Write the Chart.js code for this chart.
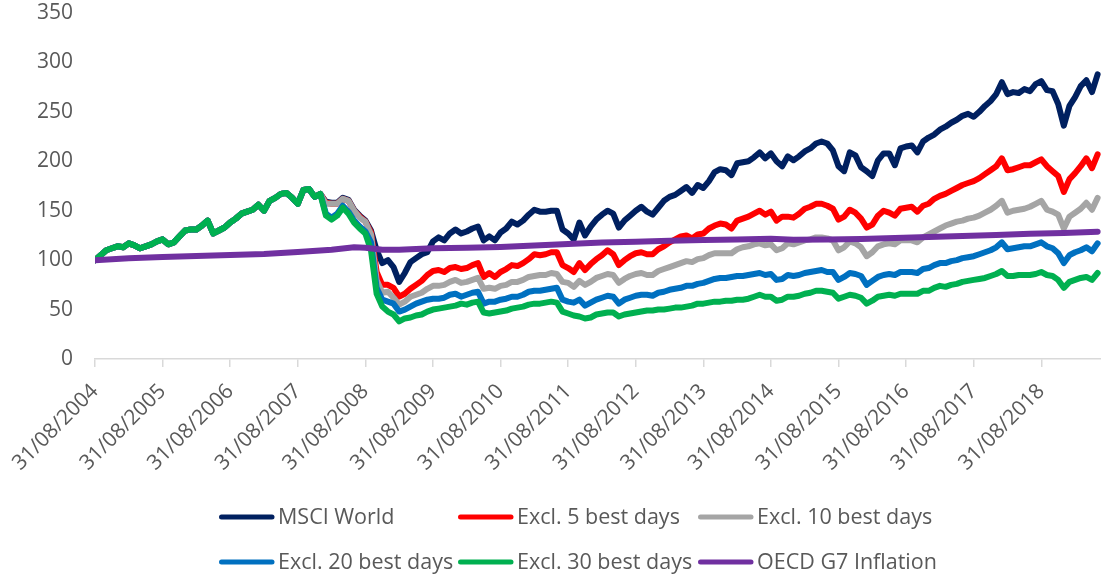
<!DOCTYPE html>
<html>
<head>
<meta charset="utf-8">
<title>MSCI World – missing the best days</title>
<script src="https://cdn.jsdelivr.net/npm/chart.js@4.4.1/dist/chart.umd.min.js"></script>
<style>
  html, body { margin: 0; padding: 0; background: #ffffff; }
  #wrap { width: 1101px; height: 576px; position: relative; }
</style>
</head>
<body>
<div id="wrap"><canvas id="chart"></canvas></div>
<script>
// x values are month-end offsets counted from 31/08/2004 (0 = Aug 2004, 178 = Jun 2019)
const tickLabels = [
  '31/08/2004', '31/08/2005', '31/08/2006', '31/08/2007', '31/08/2008',
  '31/08/2009', '31/08/2010', '31/08/2011', '31/08/2012', '31/08/2013',
  '31/08/2014', '31/08/2015', '31/08/2016', '31/08/2017', '31/08/2018'
];

// Index levels, base 100 (one value per month end)
const msciWorld = [
  100,105,110,112,114,113,117,115,112,114,116,119,
  121,116,118,124,130,131,131,135,140,127,130,133,
  138,142,147,149,151,156,150,160,163,167,168,163,
  157,171,172,164,167,159,158,158,163,161,151,145,
  140,130,110,97,100,93,78,87,98,102,106,108,
  119,123,120,127,131,127,129,132,134,120,124,120,
  128,132,139,136,140,146,151,149,149,150,150,131,
  127,121,138,125,134,141,146,150,147,133,140,145,
  150,154,149,146,153,160,164,166,170,174,168,176,
  173,180,189,192,191,186,198,199,200,204,209,203,
  208,200,195,205,201,205,210,213,218,220,218,211,
  195,190,209,206,194,190,185,201,208,208,196,213,
  215,216,209,220,224,227,232,235,239,242,246,248,
  245,250,256,261,268,280,268,270,269,273,271,278,
  281,272,271,258,236,256,265,276,282,270,288
];

const excl5Best = [
  100,105,110,112,114,113,117,115,112,114,116,119,
  121,116,118,124,130,131,131,135,140,127,130,133,
  138,142,147,149,151,156,150,160,163,167,168,163,
  157,171,172,164,167,158,157,157,162,160,150,144,
  139,128,88,75,75,72,63,66,71,75,79,85,
  89,90,88,92,93,91,92,95,97,83,87,83,
  88,91,95,94,97,101,106,105,106,108,108,95,
  92,88,97,90,96,101,105,110,106,95,100,104,
  107,108,106,106,111,114,118,121,124,125,122,126,
  127,132,135,137,136,132,140,142,144,147,150,146,
  149,140,144,144,143,147,152,154,157,157,155,152,
  141,144,151,148,142,133,136,145,150,148,145,152,
  153,154,149,155,157,162,165,167,170,173,176,178,
  180,183,187,191,195,203,191,192,194,196,196,199,
  202,195,190,185,169,182,188,195,203,193,207
];

const excl10Best = [
  100,105,110,112,114,113,117,115,112,114,116,119,
  121,116,118,124,130,131,131,135,140,127,130,133,
  138,142,147,149,151,156,150,160,163,167,168,163,
  157,171,172,164,167,157,157,157,162,160,150,143,
  139,126,80,67,68,62,55,58,63,65,67,71,
  74,74,75,78,80,77,78,80,82,71,72,71,
  74,75,78,78,80,83,84,85,85,87,86,78,
  77,73,79,75,78,82,84,86,85,77,81,84,
  86,87,85,85,89,91,93,95,97,99,98,101,
  102,105,107,107,107,107,111,113,114,116,117,115,
  116,110,112,117,116,118,120,121,123,123,122,120,
  110,113,119,117,113,104,108,114,116,117,116,120,
  120,120,118,123,126,129,132,135,137,139,140,142,
  143,145,148,151,155,160,148,150,151,152,154,157,
  160,151,149,146,132,144,148,152,158,151,163
];

const excl20Best = [
  100,105,110,112,114,113,117,115,112,114,116,119,
  121,116,118,124,130,131,131,135,140,127,130,133,
  138,142,147,149,151,156,150,160,163,167,168,163,
  157,171,172,164,167,147,143,147,155,149,140,134,
  129,118,72,60,58,56,48,50,53,56,58,60,
  61,61,62,65,66,63,65,67,68,56,58,58,
  60,61,63,63,65,68,69,69,70,71,72,60,
  58,57,60,54,57,60,62,64,63,56,60,62,
  64,65,65,64,67,68,70,71,72,74,74,76,
  77,79,81,82,82,83,84,84,85,86,87,85,
  86,80,81,85,84,85,87,88,89,90,88,88,
  80,83,87,86,84,75,79,83,85,86,85,88,
  88,88,87,91,92,95,97,97,99,100,102,103,
  104,106,108,110,113,118,111,112,113,114,114,116,
  118,114,112,107,97,105,108,110,113,109,117
];

const excl30Best = [
  100,105,110,112,114,113,117,115,112,114,116,119,
  121,116,118,124,130,131,131,135,140,127,130,133,
  138,142,147,149,151,156,150,160,163,167,168,163,
  157,171,172,164,167,145,141,145,153,147,138,132,
  127,110,66,53,48,45,38,41,42,44,45,48,
  50,51,52,53,54,56,55,57,58,47,46,47,
  48,49,51,52,53,55,56,56,57,58,57,48,
  46,44,43,41,42,45,46,47,47,43,45,46,
  47,48,49,49,50,50,51,52,52,53,54,56,
  56,57,58,58,59,59,60,60,61,63,65,63,
  63,59,60,63,63,64,66,67,69,69,68,67,
  61,63,65,64,62,56,59,63,64,65,64,66,
  66,66,66,69,69,72,74,73,75,76,78,79,
  80,81,82,84,86,89,84,84,85,85,85,86,
  88,85,84,80,72,78,80,82,83,80,87
];

// Inflation index, read at fewer dates (month offsets as above)
const inflationMonths = [0, 6, 12, 18, 24, 30, 36, 42, 46, 48, 51, 54, 60, 66, 72, 78, 84,
  90, 96, 102, 108, 114, 120, 124, 130, 136, 142, 148, 154, 160, 166, 172, 178];
const inflation = [100, 101.8, 103.3, 104.2, 105.1, 106.2, 108.3, 110.6, 113, 112.6, 110.5,
  110.6, 112, 112.6, 113.4, 114.8, 116.3, 117.8, 118.6, 119.7, 120.4, 121, 121.6, 120.6,
  121, 121.5, 122.4, 123.4, 124.3, 125.4, 126.7, 127.5, 128.8];

const seriesNames = ['MSCI World', 'Excl. 5 best days', 'Excl. 10 best days',
  'Excl. 20 best days', 'Excl. 30 best days', 'OECD G7 Inflation'];
const seriesColors = ['#002060', '#FF0000', '#A5A5A5', '#0070C0', '#00B050', '#7030A0'];

const monthly = (values) => values.map((v, i) => ({ x: i, y: v }));
const seriesData = [
  monthly(msciWorld),
  monthly(excl5Best),
  monthly(excl10Best),
  monthly(excl20Best),
  monthly(excl30Best),
  inflationMonths.map((m, i) => ({ x: m, y: inflation[i] }))
];

const TEXT = '#595959';
const FONT = "'Open Sans', 'Liberation Sans', sans-serif";

// Legend laid out as a fixed 3-column grid under the axis
const gridLegend = {
  id: 'gridLegend',
  afterDraw(chart, args, opts) {
    const ctx = chart.ctx;
    ctx.save();
    ctx.font = `${opts.size}px ${FONT}`;
    ctx.textBaseline = 'middle';
    ctx.textAlign = 'left';
    chart.data.datasets.forEach((ds, i) => {
      const x = opts.columns[i % 3];
      const y = opts.rows[Math.floor(i / 3)];
      ctx.strokeStyle = ds.borderColor;
      ctx.lineWidth = 5;
      ctx.lineCap = 'round';
      ctx.beginPath();
      ctx.moveTo(x + 2.5, y);
      ctx.lineTo(x + 53, y);
      ctx.stroke();
      ctx.fillStyle = TEXT;
      ctx.fillText(ds.label, x + 59, y + 1);
    });
    ctx.restore();
  }
};

new Chart(document.getElementById('chart'), {
  type: 'line',
  data: {
    datasets: seriesData.map((data, i) => ({
      label: seriesNames[i],
      data,
      borderColor: seriesColors[i],
      backgroundColor: seriesColors[i],
      borderWidth: 6,
      borderCapStyle: 'round',
      borderJoinStyle: 'round',
      pointRadius: 0,
      tension: 0,
      fill: false,
      order: seriesNames.length - i
    }))
  },
  options: {
    responsive: true,
    maintainAspectRatio: false,
    animation: false,
    events: [],
    layout: { padding: { top: 13, right: 0, bottom: 100, left: 0 } },
    scales: {
      x: {
        type: 'linear',
        min: 0,
        max: 178.6,
        afterBuildTicks(scale) {
          scale.ticks = tickLabels.map((_, i) => ({ value: i * 12 }));
        },
        afterFit(scale) {
          scale.height = 117;
          scale.paddingLeft = 0;
          scale.paddingRight = 0;
        },
        ticks: {
          autoSkip: false,
          maxRotation: 45,
          minRotation: 45,
          padding: 12,
          color: TEXT,
          font: { family: FONT, size: 21 },
          callback: (value, index) => tickLabels[index]
        },
        grid: {
          drawOnChartArea: false,
          drawTicks: true,
          tickLength: 8,
          color: '#D9D9D9',
          lineWidth: 1.5
        },
        border: { display: true, color: '#D9D9D9', width: 1.5 }
      },
      y: {
        min: 0,
        max: 350,
        afterFit(scale) {
          scale.width = 95;
          scale.paddingTop = 0;
          scale.paddingBottom = 0;
        },
        ticks: {
          stepSize: 50,
          padding: 22,
          color: TEXT,
          font: { family: FONT, size: 21 }
        },
        grid: { display: false, drawTicks: false },
        border: { display: false }
      }
    },
    plugins: {
      legend: { display: false },
      tooltip: { enabled: false },
      gridLegend: { columns: [219, 458, 698], rows: [517, 562], size: 21.5 }
    }
  },
  plugins: [gridLegend]
});
</script>
</body>
</html>
